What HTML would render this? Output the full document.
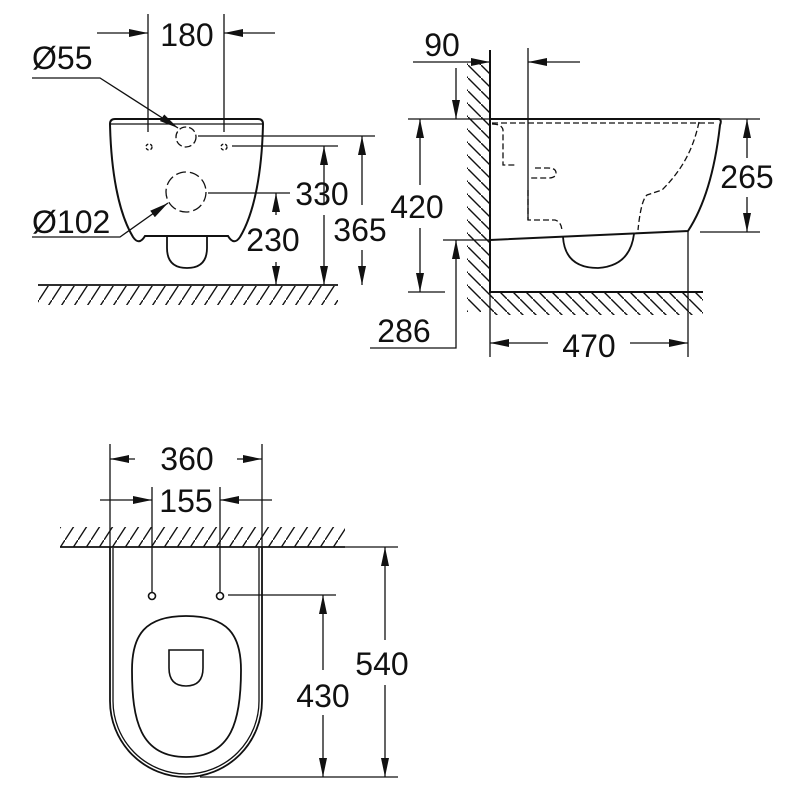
<!DOCTYPE html>
<html><head><meta charset="utf-8"><style>
html,body{margin:0;padding:0;background:#fff;}
svg{display:block;}
text{font-family:"Liberation Sans",sans-serif;font-size:32px;fill:#111;}
</style></head><body>
<svg width="800" height="800" viewBox="0 0 800 800" xmlns="http://www.w3.org/2000/svg">
<defs>
<marker id="a" markerUnits="userSpaceOnUse" markerWidth="20" markerHeight="8" refX="19" refY="4" orient="auto"><path d="M0,0 L19,4 L0,8 Z" fill="#111"/></marker>
<pattern id="hf" patternUnits="userSpaceOnUse" width="13" height="20"><line x1="0" y1="20" x2="13" y2="0" stroke="#111" stroke-width="1.4"/></pattern>
<pattern id="hb" patternUnits="userSpaceOnUse" width="13" height="13"><line x1="0" y1="0" x2="13" y2="13" stroke="#111" stroke-width="1.4"/></pattern>
</defs>
<g fill="none" stroke="#111" stroke-width="1.3">
<!-- TOP LEFT -->
<line x1="148" y1="14" x2="148" y2="132"/><line x1="224" y1="14" x2="224" y2="132"/>
<line x1="97" y1="33" x2="148" y2="33" marker-end="url(#a)"/>
<line x1="275" y1="33" x2="224" y2="33" marker-end="url(#a)"/>
<polyline points="32,78 100,78 178,128" marker-end="url(#a)"/>
<polyline points="32,237 120,237 168,203" marker-end="url(#a)"/>
<path d="M110,124 Q110,119 115,119 L258,119 Q263,119 263,124 C262,170 255,212 240,237 Q234,246 228,236 L145,236 Q139,246 133,237 C118,212 111,170 110,124 Z" stroke-width="2"/>
<line x1="111" y1="124" x2="262" y2="124"/>
<path d="M167,236 L167,248 Q167,268 187,268 Q207,268 207,248 L207,236" stroke-width="1.8"/>
<circle cx="149" cy="147" r="3" stroke-dasharray="3 2"/><circle cx="224" cy="147" r="3" stroke-dasharray="3 2"/>
<circle cx="186" cy="137" r="10" stroke-dasharray="7 3"/>
<circle cx="186" cy="192" r="20" stroke-dasharray="10 4"/>
<line x1="232" y1="146" x2="338" y2="146"/><line x1="198" y1="136" x2="375" y2="136"/>
<line x1="208" y1="193" x2="290" y2="193"/>
<line x1="276" y1="215" x2="276" y2="193" marker-end="url(#a)"/><line x1="276" y1="262" x2="276" y2="285" marker-end="url(#a)"/>
<line x1="324" y1="205" x2="324" y2="146" marker-end="url(#a)"/><line x1="324" y1="215" x2="324" y2="285" marker-end="url(#a)"/>
<line x1="362" y1="205" x2="362" y2="136" marker-end="url(#a)"/><line x1="362" y1="250" x2="362" y2="285" marker-end="url(#a)"/>
<line x1="38" y1="285" x2="338" y2="285" stroke-width="1.8"/>
<rect x="38" y="286" width="300" height="19" fill="url(#hf)" stroke="none"/>
<!-- TOP RIGHT -->
<rect x="467" y="62" width="23" height="250" fill="url(#hb)" stroke="none"/>
<rect x="490" y="293" width="213" height="22" fill="url(#hb)" stroke="none"/>
<line x1="490" y1="50" x2="490" y2="293" stroke-width="2"/>
<line x1="490" y1="292" x2="703" y2="292" stroke-width="2"/>
<line x1="413" y1="62" x2="490" y2="62" marker-end="url(#a)"/>
<line x1="528" y1="48" x2="528" y2="220"/>
<line x1="580" y1="62" x2="528" y2="62" marker-end="url(#a)"/>
<line x1="456" y1="68" x2="456" y2="119" marker-end="url(#a)"/>
<path d="M490,119 L719,119 Q722,120 720,125 C715,170 705,205 688,231 L490,240" stroke-width="2"/>
<line x1="492" y1="123" x2="716" y2="123" stroke-dasharray="6 3"/>
<path d="M563,237 Q565,268 598,268 Q630,266 634,234" stroke-width="1.8"/>
<path d="M492,124 Q502,124 503,130 L503,165 L515,165 M535,168 L548,168 Q556,168 556,173 Q556,178 548,178 L530,178 M528,190 L528,220 L555,220 Q562,222 562,232 M699,122 C693,150 682,170 662,190 L647,195 Q641,200 638,230" stroke-dasharray="6 3"/>
<line x1="408" y1="119" x2="490" y2="119"/><line x1="408" y1="292" x2="445" y2="292"/>
<line x1="420" y1="185" x2="420" y2="119" marker-end="url(#a)"/><line x1="420" y1="228" x2="420" y2="292" marker-end="url(#a)"/>
<line x1="443" y1="240" x2="490" y2="240"/>
<polyline points="370,348 456,348 456,240" marker-end="url(#a)"/>
<line x1="690" y1="119" x2="760" y2="119"/><line x1="700" y1="232" x2="760" y2="232"/>
<line x1="747" y1="158" x2="747" y2="119" marker-end="url(#a)"/><line x1="747" y1="197" x2="747" y2="232" marker-end="url(#a)"/>
<line x1="490" y1="293" x2="490" y2="357"/><line x1="688" y1="232" x2="688" y2="357"/>
<line x1="548" y1="343" x2="490" y2="343" marker-end="url(#a)"/><line x1="630" y1="343" x2="688" y2="343" marker-end="url(#a)"/>
<!-- BOTTOM -->
<line x1="110" y1="444" x2="110" y2="548"/><line x1="262" y1="444" x2="262" y2="548"/>
<line x1="135" y1="459" x2="110" y2="459" marker-end="url(#a)"/><line x1="237" y1="459" x2="262" y2="459" marker-end="url(#a)"/>
<line x1="152" y1="487" x2="152" y2="592"/><line x1="220" y1="487" x2="220" y2="592"/>
<line x1="100" y1="500" x2="152" y2="500" marker-end="url(#a)"/><line x1="272" y1="500" x2="220" y2="500" marker-end="url(#a)"/>
<rect x="60" y="527" width="285" height="20" fill="url(#hf)" stroke="none"/>
<line x1="60" y1="547" x2="345" y2="547" stroke-width="1.8"/>
<path d="M110,547 L110,701 A76,76 0 0 0 262,701 L262,547" stroke-width="1.8"/>
<path d="M113,548 L113,701 A73,73 0 0 0 259,701 L259,548"/>
<circle cx="152" cy="596" r="3.5" stroke-width="1.6"/><circle cx="220" cy="596" r="3.5" stroke-width="1.6"/>
<path d="M186,616 C228,616 241,635 241,670 C241,720 232,757 186,757 C140,757 132,720 132,670 C132,635 145,616 186,616 Z" stroke-width="1.8"/>
<path d="M169,650 L203,650 L203,668 Q203,686 186,686 Q169,686 169,668 Z" stroke-width="1.6"/>
<line x1="228" y1="595" x2="336" y2="595"/>
<line x1="323" y1="670" x2="323" y2="595" marker-end="url(#a)"/><line x1="323" y1="715" x2="323" y2="777" marker-end="url(#a)"/>
<line x1="345" y1="547" x2="398" y2="547"/><line x1="200" y1="777" x2="398" y2="777"/>
<line x1="385" y1="640" x2="385" y2="547" marker-end="url(#a)"/><line x1="385" y1="685" x2="385" y2="777" marker-end="url(#a)"/>
</g>
<text x="187" y="46" text-anchor="middle">180</text>
<text x="32" y="69">Ø55</text>
<text x="32" y="233">Ø102</text>
<text x="322" y="205" text-anchor="middle">330</text>
<text x="273" y="251" text-anchor="middle">230</text>
<text x="360" y="241" text-anchor="middle">365</text>
<text x="442" y="56" text-anchor="middle">90</text>
<text x="417" y="218" text-anchor="middle">420</text>
<text x="747" y="188" text-anchor="middle">265</text>
<text x="404" y="342" text-anchor="middle">286</text>
<text x="589" y="357" text-anchor="middle">470</text>
<text x="187" y="470" text-anchor="middle">360</text>
<text x="186" y="512" text-anchor="middle">155</text>
<text x="382" y="675" text-anchor="middle">540</text>
<text x="323" y="707" text-anchor="middle">430</text>
</svg>
</body></html>
